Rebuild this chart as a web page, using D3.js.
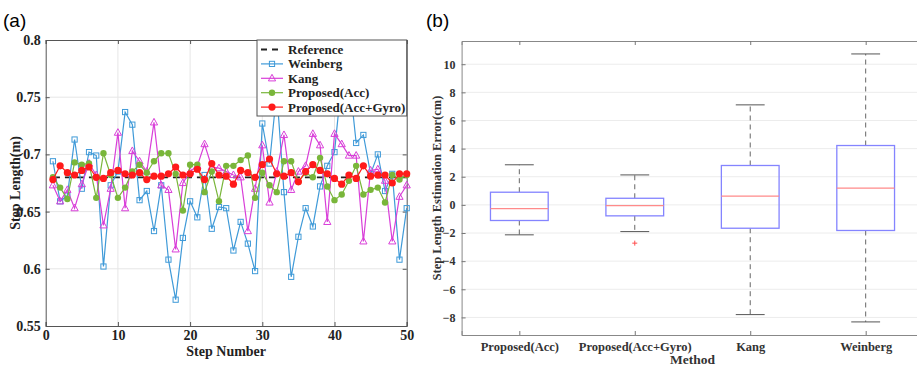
<!DOCTYPE html>
<html><head><meta charset="utf-8">
<script src="https://cdn.jsdelivr.net/npm/d3@7"></script>
<style>body{margin:0;background:#fff}svg{display:block}</style>
</head><body>
<svg id="c" width="917" height="367"></svg>
<script>
// ---------- data: panel (a) ----------
const steps = d3.range(1, 51);
const referenceValue = 0.68;
const weinberg = [0.694,0.659,0.664,0.713,0.670,0.702,0.699,0.602,0.673,0.685,
  0.737,0.726,0.660,0.668,0.633,0.673,0.608,0.573,0.627,0.659,
  0.645,0.682,0.635,0.654,0.653,0.616,0.641,0.622,0.598,0.727,
  0.692,0.755,0.667,0.593,0.628,0.653,0.637,0.672,0.690,0.702,
  0.765,0.770,0.710,0.717,0.683,0.700,0.668,0.683,0.608,0.653];
const kang = [0.673,0.659,0.669,0.653,0.674,0.692,0.682,0.638,0.670,0.719,
  0.653,0.703,0.694,0.685,0.728,0.673,0.669,0.617,0.675,0.685,
  0.690,0.709,0.689,0.688,0.685,0.682,0.680,0.633,0.670,0.708,
  0.658,0.685,0.717,0.669,0.685,0.690,0.718,0.708,0.641,0.718,
  0.709,0.699,0.699,0.624,0.686,0.687,0.677,0.624,0.663,0.673];
const proposedAcc = [0.680,0.671,0.661,0.693,0.691,0.692,0.662,0.701,0.682,0.662,
  0.671,0.685,0.691,0.684,0.694,0.701,0.701,0.683,0.651,0.691,
  0.691,0.667,0.685,0.659,0.690,0.690,0.695,0.699,0.662,0.684,
  0.673,0.667,0.694,0.694,0.676,0.684,0.680,0.697,0.672,0.660,
  0.665,0.677,0.690,0.665,0.669,0.671,0.658,0.682,0.678,0.682];
const proposedAccGyro = [0.678,0.690,0.684,0.682,0.686,0.689,0.680,0.679,0.684,0.686,
  0.683,0.682,0.684,0.678,0.681,0.681,0.683,0.689,0.682,0.683,
  0.687,0.678,0.692,0.682,0.681,0.674,0.686,0.684,0.680,0.691,
  0.696,0.683,0.681,0.684,0.676,0.685,0.691,0.686,0.683,0.679,
  0.674,0.682,0.679,0.690,0.681,0.682,0.682,0.675,0.683,0.683];
const xTicksA = [0,10,20,30,40,50];
const yTicksA = [0.55,0.6,0.65,0.7,0.75,0.8];

// ---------- data: panel (b) ----------
const methods = ["Proposed(Acc)","Proposed(Acc+Gyro)","Kang","Weinberg"];
const whiskerLow  = [-2.13,-1.90,-7.80,-8.32];
const q1          = [-1.11,-0.78,-1.66,-1.82];
const medians     = [-0.26,-0.05, 0.62, 1.19];
const q3          = [ 0.90, 0.47, 2.80, 4.22];
const whiskerHigh = [ 2.85, 2.13, 7.11,10.73];
const outliers    = [[],[-2.72],[],[]];
const yTicksB = [-8,-6,-4,-2,0,2,4,6,8,10];

const svg = d3.select("#c");
const serif = "'Liberation Serif','Times New Roman',serif";
const sans = "'Liberation Sans',Arial,sans-serif";

// panel labels
svg.append("text").attr("x",3).attr("y",27).attr("font-family",sans).attr("font-size",19).text("(a)");
svg.append("text").attr("x",426).attr("y",27).attr("font-family",sans).attr("font-size",19).text("(b)");

// ================= Panel (a) =================
const xA = d3.scaleLinear().domain([0,50]).range([45.7,406.7]);
const yA = d3.scaleLinear().domain([0.55,0.8]).range([326,40]);
const gA = svg.append("g");

// grid
gA.append("g").selectAll("line").data(xTicksA.slice(1,-1)).join("line")
  .attr("x1",d=>xA(d)).attr("x2",d=>xA(d)).attr("y1",yA(0.55)).attr("y2",yA(0.8))
  .attr("stroke","#e6e6e6").attr("stroke-width",1);
gA.append("g").selectAll("line").data(yTicksA.slice(1,-1)).join("line")
  .attr("y1",d=>yA(d)).attr("y2",d=>yA(d)).attr("x1",xA(0)).attr("x2",xA(50))
  .attr("stroke","#e6e6e6").attr("stroke-width",1);

// axes
const axA_x = gA.append("g").attr("transform",`translate(0,${yA(0.55)})`)
  .call(d3.axisBottom(xA).tickValues(xTicksA).tickSize(-4).tickPadding(4).tickFormat(d3.format("d")));
const axA_y = gA.append("g").attr("transform",`translate(${xA(0)},0)`)
  .call(d3.axisLeft(yA).tickValues(yTicksA).tickSize(-4).tickPadding(5).tickFormat(d=>String(+d.toFixed(2))));
const axA_top = gA.append("g").attr("transform",`translate(0,${yA(0.8)})`)
  .call(d3.axisTop(xA).tickValues(xTicksA).tickSize(-4).tickFormat(""));
const axA_r = gA.append("g").attr("transform",`translate(${xA(50)},0)`)
  .call(d3.axisRight(yA).tickValues(yTicksA).tickSize(-4).tickFormat(""));
[axA_x,axA_y,axA_top,axA_r].forEach(a=>{
  a.select(".domain").attr("stroke","#555");
  a.selectAll(".tick line").attr("stroke","#555");
  a.selectAll("text").attr("font-family",serif).attr("font-weight","bold").attr("font-size",14).attr("fill","#222");
});

gA.append("text").attr("x",(xA(0)+xA(50))/2).attr("y",356).attr("text-anchor","middle")
  .attr("font-family",serif).attr("font-weight","bold").attr("font-size",14).attr("fill","#222").text("Step Number");
gA.append("text").attr("transform",`translate(20,${(yA(0.55)+yA(0.8))/2}) rotate(-90)`).attr("text-anchor","middle")
  .attr("font-family",serif).attr("font-weight","bold").attr("font-size",14).attr("fill","#222").text("Step Length(m)");

// series
const series = [
  {name:"Weinberg", vals:weinberg, color:"#3f9ad8", marker:"square"},
  {name:"Kang", vals:kang, color:"#d93fd9", marker:"triangle"},
  {name:"Proposed(Acc)", vals:proposedAcc, color:"#79b63a", marker:"circle", r:3.2},
  {name:"Proposed(Acc+Gyro)", vals:proposedAccGyro, color:"#ff1a1a", marker:"circle", r:3.6}
];
const line = d3.line().x((d,i)=>xA(steps[i])).y(d=>yA(d));

function drawMarker(g, cx, cy, s){
  if(s.marker==="square"){
    g.append("rect").attr("x",cx-2.6).attr("y",cy-2.6).attr("width",5.2).attr("height",5.2)
      .attr("fill","none").attr("stroke",s.color).attr("stroke-width",1);
  } else if(s.marker==="triangle"){
    g.append("path").attr("d",`M${cx},${cy-4}L${cx+3.6},${cy+2.6}L${cx-3.6},${cy+2.6}Z`)
      .attr("fill","none").attr("stroke",s.color).attr("stroke-width",1);
  } else {
    g.append("circle").attr("cx",cx).attr("cy",cy).attr("r",s.r).attr("fill",s.color);
  }
}

// reference
gA.append("line").attr("x1",xA(1)).attr("x2",xA(50)).attr("y1",yA(referenceValue)).attr("y2",yA(referenceValue))
  .attr("stroke","#222").attr("stroke-width",1.8).attr("stroke-dasharray","7,5");

series.forEach(s=>{
  gA.append("path").datum(s.vals).attr("d",line).attr("fill","none").attr("stroke",s.color).attr("stroke-width",1.2);
  const mg = gA.append("g");
  s.vals.forEach((v,i)=>drawMarker(mg, xA(steps[i]), yA(v), s));
});

// legend
const lg = gA.append("g");
lg.append("rect").attr("x",257).attr("y",40).attr("width",149.7).attr("height",76)
  .attr("fill","#fff").attr("stroke","#555").attr("stroke-width",1);
const legendItems = [{name:"Reference", ref:true}].concat(series);
legendItems.forEach((s,i)=>{
  const y = 49.5 + i*14.4;
  if(s.ref){
    lg.append("line").attr("x1",261).attr("x2",283).attr("y1",y).attr("y2",y)
      .attr("stroke","#222").attr("stroke-width",1.8).attr("stroke-dasharray","6,5");
  } else {
    lg.append("line").attr("x1",261).attr("x2",283).attr("y1",y).attr("y2",y).attr("stroke",s.color).attr("stroke-width",1.2);
    drawMarker(lg, 272, y, s);
  }
  lg.append("text").attr("x",288).attr("y",y+4.5).attr("font-family",serif).attr("font-weight","bold")
    .attr("font-size",13).attr("fill","#222").text(s.name);
});

// ================= Panel (b) =================
const xB = d3.scaleLinear().domain([0.5,4.5]).range([461.6,923.4]);
const yB = d3.scaleLinear().domain([-9.25,11.65]).range([335,41]);
const gB = svg.append("g");

gB.append("g").selectAll("line").data(yTicksB).join("line")
  .attr("x1",xB(0.5)).attr("x2",xB(4.5)).attr("y1",d=>yB(d)).attr("y2",d=>yB(d))
  .attr("stroke","#ececec").attr("stroke-width",1);

const pos = methods.map((m,i)=>i+1);
const axB_x = gB.append("g").attr("transform",`translate(0,${yB(-9.25)})`)
  .call(d3.axisBottom(xB).tickValues(pos).tickSize(-4).tickPadding(7).tickFormat((d,i)=>methods[i]));
const axB_y = gB.append("g").attr("transform",`translate(${xB(0.5)},0)`)
  .call(d3.axisLeft(yB).tickValues(yTicksB).tickSize(-4).tickPadding(6));
const axB_top = gB.append("g").attr("transform",`translate(0,${yB(11.65)})`)
  .call(d3.axisTop(xB).tickValues(pos).tickSize(-4).tickFormat(""));
[axB_x,axB_y,axB_top].forEach(a=>{
  a.select(".domain").attr("stroke","#888");
  a.selectAll(".tick line").attr("stroke","#777");
  a.selectAll("text").attr("font-family",serif).attr("font-weight","bold").attr("fill","#333");
});
axB_x.selectAll("text").attr("font-size",12.5);
axB_y.selectAll("text").attr("font-size",12);

gB.append("text").attr("x",(xB(0.5)+xB(4.5))/2).attr("y",364).attr("text-anchor","middle")
  .attr("font-family",serif).attr("font-weight","bold").attr("font-size",13.5).attr("fill","#333").text("Method");
gB.append("text").attr("transform",`translate(441,${(yB(-9.25)+yB(11.65))/2}) rotate(-90)`).attr("text-anchor","middle")
  .attr("font-family",serif).attr("font-weight","bold").attr("font-size",12.5).attr("fill","#333").text("Step Length Estimation Error(cm)");

const bw = 0.25, cw = 0.125;
methods.forEach((m,i)=>{
  const p = pos[i];
  const g = gB.append("g");
  g.append("line").attr("x1",xB(p)).attr("x2",xB(p)).attr("y1",yB(q3[i])).attr("y2",yB(whiskerHigh[i]))
    .attr("stroke","#666").attr("stroke-width",1).attr("stroke-dasharray","5,4");
  g.append("line").attr("x1",xB(p)).attr("x2",xB(p)).attr("y1",yB(q1[i])).attr("y2",yB(whiskerLow[i]))
    .attr("stroke","#666").attr("stroke-width",1).attr("stroke-dasharray","5,4");
  [whiskerHigh[i], whiskerLow[i]].forEach(w=>{
    g.append("line").attr("x1",xB(p-cw)).attr("x2",xB(p+cw)).attr("y1",yB(w)).attr("y2",yB(w))
      .attr("stroke","#555").attr("stroke-width",1);
  });
  g.append("rect").attr("x",xB(p-bw)).attr("y",yB(q3[i])).attr("width",xB(p+bw)-xB(p-bw))
    .attr("height",yB(q1[i])-yB(q3[i])).attr("fill","none").attr("stroke","#8484ff").attr("stroke-width",1.3);
  g.append("line").attr("x1",xB(p-bw)).attr("x2",xB(p+bw)).attr("y1",yB(medians[i])).attr("y2",yB(medians[i]))
    .attr("stroke","#ff8a8a").attr("stroke-width",1.3);
  outliers[i].forEach(o=>{
    g.append("path").attr("d",`M${xB(p)-2.5},${yB(o)}h5M${xB(p)},${yB(o)-2.5}v5`).attr("stroke","#ff4d4d").attr("stroke-width",1);
  });
});
</script>
</body></html>
